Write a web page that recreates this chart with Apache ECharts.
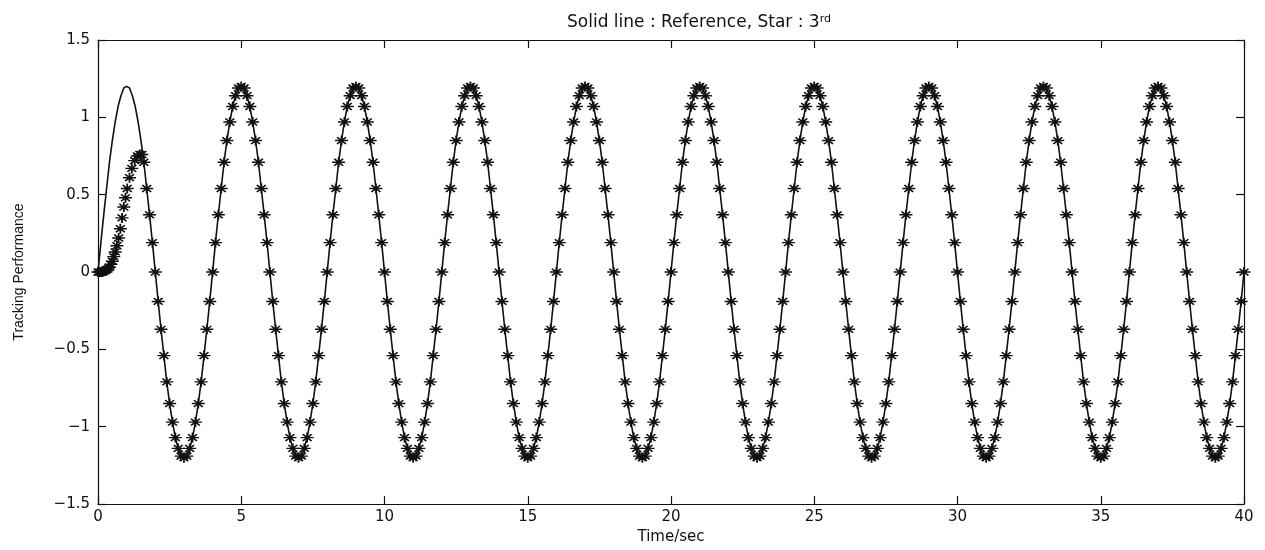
<!DOCTYPE html>
<html>
<head>
<meta charset="utf-8">
<script src="https://cdn.jsdelivr.net/npm/echarts@6/dist/echarts.min.js"></script>
<style>
html,body{margin:0;padding:0;background:#fff;}
#chart{width:1265px;height:550px;}
</style>
</head>
<body>
<div id="chart"></div>
<script>
// Time samples (s)
const time = [
0,0.1,0.2,0.3,0.4,0.5,0.6,0.7,0.8,0.9,1,1.1,1.2,1.3,1.4,1.5,1.6,1.7,1.8,1.9,2,2.1,2.2,2.3,2.4,2.5,2.6,2.7,2.8,2.9,3,3.1,3.2,3.3,3.4,3.5,3.6,3.7,3.8,3.9,
4,4.1,4.2,4.3,4.4,4.5,4.6,4.7,4.8,4.9,5,5.1,5.2,5.3,5.4,5.5,5.6,5.7,5.8,5.9,6,6.1,6.2,6.3,6.4,6.5,6.6,6.7,6.8,6.9,7,7.1,7.2,7.3,7.4,7.5,7.6,7.7,7.8,7.9,
8,8.1,8.2,8.3,8.4,8.5,8.6,8.7,8.8,8.9,9,9.1,9.2,9.3,9.4,9.5,9.6,9.7,9.8,9.9,10,10.1,10.2,10.3,10.4,10.5,10.6,10.7,10.8,10.9,11,11.1,11.2,11.3,11.4,11.5,11.6,11.7,11.8,11.9,
12,12.1,12.2,12.3,12.4,12.5,12.6,12.7,12.8,12.9,13,13.1,13.2,13.3,13.4,13.5,13.6,13.7,13.8,13.9,14,14.1,14.2,14.3,14.4,14.5,14.6,14.7,14.8,14.9,15,15.1,15.2,15.3,15.4,15.5,15.6,15.7,15.8,15.9,
16,16.1,16.2,16.3,16.4,16.5,16.6,16.7,16.8,16.9,17,17.1,17.2,17.3,17.4,17.5,17.6,17.7,17.8,17.9,18,18.1,18.2,18.3,18.4,18.5,18.6,18.7,18.8,18.9,19,19.1,19.2,19.3,19.4,19.5,19.6,19.7,19.8,19.9,
20,20.1,20.2,20.3,20.4,20.5,20.6,20.7,20.8,20.9,21,21.1,21.2,21.3,21.4,21.5,21.6,21.7,21.8,21.9,22,22.1,22.2,22.3,22.4,22.5,22.6,22.7,22.8,22.9,23,23.1,23.2,23.3,23.4,23.5,23.6,23.7,23.8,23.9,
24,24.1,24.2,24.3,24.4,24.5,24.6,24.7,24.8,24.9,25,25.1,25.2,25.3,25.4,25.5,25.6,25.7,25.8,25.9,26,26.1,26.2,26.3,26.4,26.5,26.6,26.7,26.8,26.9,27,27.1,27.2,27.3,27.4,27.5,27.6,27.7,27.8,27.9,
28,28.1,28.2,28.3,28.4,28.5,28.6,28.7,28.8,28.9,29,29.1,29.2,29.3,29.4,29.5,29.6,29.7,29.8,29.9,30,30.1,30.2,30.3,30.4,30.5,30.6,30.7,30.8,30.9,31,31.1,31.2,31.3,31.4,31.5,31.6,31.7,31.8,31.9,
32,32.1,32.2,32.3,32.4,32.5,32.6,32.7,32.8,32.9,33,33.1,33.2,33.3,33.4,33.5,33.6,33.7,33.8,33.9,34,34.1,34.2,34.3,34.4,34.5,34.6,34.7,34.8,34.9,35,35.1,35.2,35.3,35.4,35.5,35.6,35.7,35.8,35.9,
36,36.1,36.2,36.3,36.4,36.5,36.6,36.7,36.8,36.9,37,37.1,37.2,37.3,37.4,37.5,37.6,37.7,37.8,37.9,38,38.1,38.2,38.3,38.4,38.5,38.6,38.7,38.8,38.9,39,39.1,39.2,39.3,39.4,39.5,39.6,39.7,39.8,39.9,
40
];

// Reference signal (solid line)
const reference = [
0,0.19,0.37,0.54,0.71,0.85,0.97,1.07,1.14,1.19,1.2,1.19,1.14,1.07,0.97,0.85,0.71,0.54,0.37,0.19,0,-0.19,-0.37,-0.54,-0.71,-0.85,-0.97,-1.07,-1.14,-1.19,-1.2,-1.19,-1.14,-1.07,-0.97,-0.85,-0.71,-0.54,-0.37,-0.19,
0,0.19,0.37,0.54,0.71,0.85,0.97,1.07,1.14,1.19,1.2,1.19,1.14,1.07,0.97,0.85,0.71,0.54,0.37,0.19,0,-0.19,-0.37,-0.54,-0.71,-0.85,-0.97,-1.07,-1.14,-1.19,-1.2,-1.19,-1.14,-1.07,-0.97,-0.85,-0.71,-0.54,-0.37,-0.19,
0,0.19,0.37,0.54,0.71,0.85,0.97,1.07,1.14,1.19,1.2,1.19,1.14,1.07,0.97,0.85,0.71,0.54,0.37,0.19,0,-0.19,-0.37,-0.54,-0.71,-0.85,-0.97,-1.07,-1.14,-1.19,-1.2,-1.19,-1.14,-1.07,-0.97,-0.85,-0.71,-0.54,-0.37,-0.19,
0,0.19,0.37,0.54,0.71,0.85,0.97,1.07,1.14,1.19,1.2,1.19,1.14,1.07,0.97,0.85,0.71,0.54,0.37,0.19,0,-0.19,-0.37,-0.54,-0.71,-0.85,-0.97,-1.07,-1.14,-1.19,-1.2,-1.19,-1.14,-1.07,-0.97,-0.85,-0.71,-0.54,-0.37,-0.19,
0,0.19,0.37,0.54,0.71,0.85,0.97,1.07,1.14,1.19,1.2,1.19,1.14,1.07,0.97,0.85,0.71,0.54,0.37,0.19,0,-0.19,-0.37,-0.54,-0.71,-0.85,-0.97,-1.07,-1.14,-1.19,-1.2,-1.19,-1.14,-1.07,-0.97,-0.85,-0.71,-0.54,-0.37,-0.19,
0,0.19,0.37,0.54,0.71,0.85,0.97,1.07,1.14,1.19,1.2,1.19,1.14,1.07,0.97,0.85,0.71,0.54,0.37,0.19,0,-0.19,-0.37,-0.54,-0.71,-0.85,-0.97,-1.07,-1.14,-1.19,-1.2,-1.19,-1.14,-1.07,-0.97,-0.85,-0.71,-0.54,-0.37,-0.19,
0,0.19,0.37,0.54,0.71,0.85,0.97,1.07,1.14,1.19,1.2,1.19,1.14,1.07,0.97,0.85,0.71,0.54,0.37,0.19,0,-0.19,-0.37,-0.54,-0.71,-0.85,-0.97,-1.07,-1.14,-1.19,-1.2,-1.19,-1.14,-1.07,-0.97,-0.85,-0.71,-0.54,-0.37,-0.19,
0,0.19,0.37,0.54,0.71,0.85,0.97,1.07,1.14,1.19,1.2,1.19,1.14,1.07,0.97,0.85,0.71,0.54,0.37,0.19,0,-0.19,-0.37,-0.54,-0.71,-0.85,-0.97,-1.07,-1.14,-1.19,-1.2,-1.19,-1.14,-1.07,-0.97,-0.85,-0.71,-0.54,-0.37,-0.19,
0,0.19,0.37,0.54,0.71,0.85,0.97,1.07,1.14,1.19,1.2,1.19,1.14,1.07,0.97,0.85,0.71,0.54,0.37,0.19,0,-0.19,-0.37,-0.54,-0.71,-0.85,-0.97,-1.07,-1.14,-1.19,-1.2,-1.19,-1.14,-1.07,-0.97,-0.85,-0.71,-0.54,-0.37,-0.19,
0,0.19,0.37,0.54,0.71,0.85,0.97,1.07,1.14,1.19,1.2,1.19,1.14,1.07,0.97,0.85,0.71,0.54,0.37,0.19,0,-0.19,-0.37,-0.54,-0.71,-0.85,-0.97,-1.07,-1.14,-1.19,-1.2,-1.19,-1.14,-1.07,-0.97,-0.85,-0.71,-0.54,-0.37,-0.19,
0
];

// Star (3rd) output: start-up transient, then it tracks the reference
const startTime   = [0,0.04,0.08,0.12,0.16,0.2,0.25,0.3,0.35,0.4,0.45,0.5,0.55,0.6,0.66,0.72,0.78,0.84,0.9,0.96,1.02,1.1,1.18,1.28,1.38,1.46,1.53];
const startOutput = [0,0,0,0,0,0.005,0.01,0.015,0.02,0.03,0.05,0.07,0.1,0.13,0.17,0.22,0.28,0.35,0.42,0.48,0.54,0.61,0.67,0.72,0.75,0.76,0.76];
const trackingFromIndex = 16; // from t = 1.6 s the stars lie on the reference

const xTicks = [0,5,10,15,20,25,30,35,40];
const yTicks = [-1.5,-1,-0.5,0,0.5,1,1.5];

const refLine = time.map((t, i) => [t, reference[i]]);
const stars = startTime.map((t, i) => [t, startOutput[i]])
  .concat(time.slice(trackingFromIndex).map((t, i) => [t, reference[i + trackingFromIndex]]));

const FONT = 'DejaVu Sans';
const INK = '#111';
const axisLineStyle = { color: INK, width: 1.2 };
const starPath = 'path://M6,0L6,12M0,6L12,6M1.9,1.9L10.1,10.1M1.9,10.1L10.1,1.9';

const chart = echarts.init(document.getElementById('chart'), null, { renderer: 'canvas' });
chart.setOption({
  backgroundColor: '#fff',
  animation: false,
  title: {
    text: '{a|Solid line : Reference, Star : 3}{b|rd}',
    left: 694,
    textAlign: 'center',
    top: 9,
    textStyle: {
      fontWeight: 'normal',
      rich: {
        a: { fontSize: 17, fontFamily: FONT, color: INK, fontWeight: 'normal' },
        b: { fontSize: 11, fontFamily: FONT, color: INK, fontWeight: 'normal', verticalAlign: 'top' }
      }
    }
  },
  grid: { left: 98, right: 21, top: 40, bottom: 40, containLabel: false },
  xAxis: [
    {
      type: 'value', min: xTicks[0], max: xTicks[xTicks.length - 1], interval: 5,
      position: 'bottom',
      name: 'Time/sec', nameLocation: 'middle', nameGap: 22,
      nameTextStyle: { fontSize: 15, fontFamily: FONT, color: INK },
      axisLine: { show: true, onZero: false, lineStyle: axisLineStyle },
      axisTick: { show: true, inside: true, length: 8, lineStyle: axisLineStyle },
      axisLabel: { fontSize: 15, fontFamily: FONT, color: INK, margin: 6 },
      splitLine: { show: false }
    },
    {
      type: 'value', min: xTicks[0], max: xTicks[xTicks.length - 1], interval: 5,
      position: 'top',
      axisLine: { show: true, onZero: false, lineStyle: axisLineStyle },
      axisTick: { show: true, inside: true, length: 8, lineStyle: axisLineStyle },
      axisLabel: { show: false },
      splitLine: { show: false }
    }
  ],
  yAxis: [
    {
      type: 'value', min: yTicks[0], max: yTicks[yTicks.length - 1], interval: 0.5,
      position: 'left',
      name: 'Tracking Performance', nameLocation: 'middle', nameGap: 72,
      nameTextStyle: { fontSize: 14, fontFamily: 'Liberation Sans', color: INK },
      axisLine: { show: true, onZero: false, lineStyle: axisLineStyle },
      axisTick: { show: true, inside: true, length: 8, lineStyle: axisLineStyle },
      axisLabel: {
        fontSize: 15, fontFamily: FONT, color: INK, margin: 8,
        formatter: v => String(v).replace('-', '\u2212')
      },
      splitLine: { show: false }
    },
    {
      type: 'value', min: yTicks[0], max: yTicks[yTicks.length - 1], interval: 0.5,
      position: 'right',
      axisLine: { show: true, onZero: false, lineStyle: axisLineStyle },
      axisTick: { show: true, inside: true, length: 8, lineStyle: axisLineStyle },
      axisLabel: { show: false },
      splitLine: { show: false }
    }
  ],
  series: [
    {
      name: 'Reference', type: 'line', xAxisIndex: 0, yAxisIndex: 0,
      data: refLine, showSymbol: false, symbol: 'none',
      lineStyle: { color: INK, width: 1.6 }, z: 2
    },
    {
      name: 'Star : 3rd', type: 'scatter', xAxisIndex: 0, yAxisIndex: 0,
      data: stars, symbol: starPath, symbolSize: [13, 10],
      itemStyle: { color: 'transparent', borderColor: INK, borderWidth: 1.6, opacity: 1 },
      z: 3
    }
  ]
});
</script>
</body>
</html>
